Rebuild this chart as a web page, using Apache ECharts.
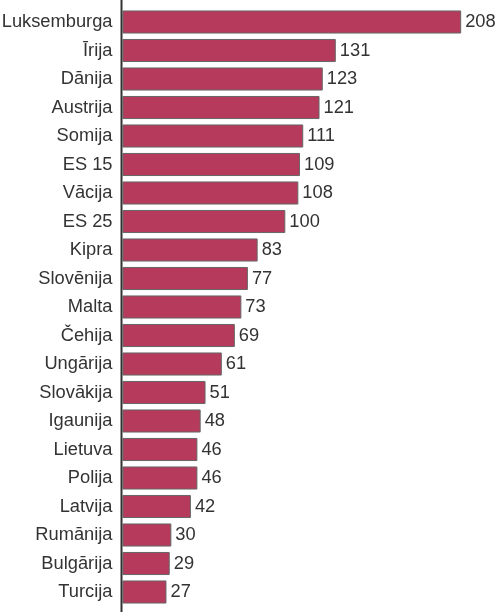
<!DOCTYPE html>
<html><head><meta charset="utf-8">
<script src="https://cdn.jsdelivr.net/npm/echarts@6/dist/echarts.min.js"></script>
<style>html,body{margin:0;padding:0;background:#fff}#c{width:500px;height:612px}</style>
</head><body><div id="c"></div>
<script>
var categories = ["Luksemburga","Īrija","Dānija","Austrija","Somija","ES 15","Vācija","ES 25","Kipra","Slovēnija","Malta","Čehija","Ungārija","Slovākija","Igaunija","Lietuva","Polija","Latvija","Rumānija","Bulgārija","Turcija"];
var values = [208,131,123,121,111,109,108,100,83,77,73,69,61,51,48,46,46,42,30,29,27];

var chart = echarts.init(document.getElementById('c'), null, {renderer:'canvas'});
var gridLeft = 122.5;
chart.setOption({
  animation:false,
  grid:{left:gridLeft, right:3, top:7.75, bottom:5.75, containLabel:false, outerBoundsMode:'none'},
  xAxis:{type:'value', min:0, max:230, show:false},
  yAxis:{type:'category', data:categories, inverse:true,
    axisLine:{show:false}, axisTick:{show:false},
    axisLabel:{margin:10, fontSize:18.3, color:'#333', fontFamily:'Liberation Sans'}},
  graphic:[{type:'line', shape:{x1:gridLeft-1, y1:0, x2:gridLeft-1, y2:612}, style:{stroke:'#333', lineWidth:2}, z:100}],
  series:[{type:'bar', data:values, barCategoryGap:'19%',
    itemStyle:{color:'#b63a5b', borderColor:'#666', borderWidth:1},
    label:{show:true, position:'right', distance:4, fontSize:18.3, color:'#333', fontFamily:'Liberation Sans'}}]
});
</script></body></html>
